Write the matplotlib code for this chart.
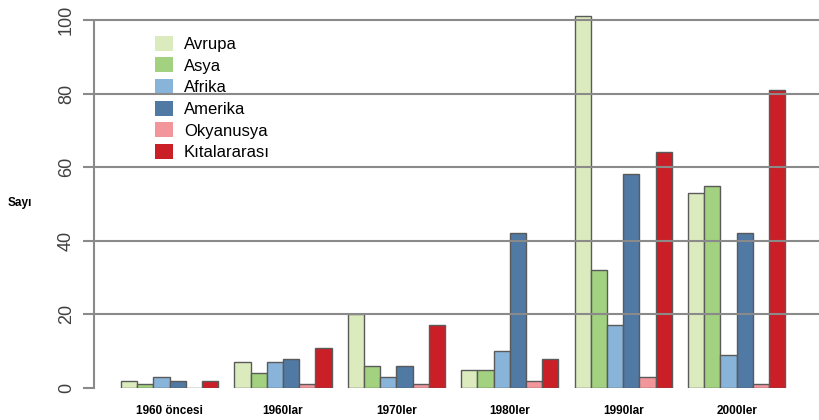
import numpy as np
import matplotlib.pyplot as plt

# Data
periods = ["1960 öncesi", "1960lar", "1970ler", "1980ler", "1990lar", "2000ler"]
regions = ["Avrupa", "Asya", "Afrika", "Amerika", "Okyanusya", "Kıtalararası"]
avrupa = [2, 7, 20, 5, 101, 53]
asya = [1, 4, 6, 5, 32, 55]
afrika = [3, 7, 3, 10, 17, 9]
amerika = [2, 8, 6, 42, 58, 42]
okyanusya = [0, 1, 1, 2, 3, 1]
kitalararasi = [2, 11, 17, 8, 64, 81]
yticks = [0, 20, 40, 60, 80, 100]

series = [avrupa, asya, afrika, amerika, okyanusya, kitalararasi]
colors = ["#DCEBBD", "#A2D17F", "#88B4DA", "#5079A4", "#F2969C", "#CB1F27"]

plt.rcParams['font.family'] = ['Liberation Sans', 'DejaVu Sans']

fig = plt.figure(figsize=(8.2, 4.2), dpi=100)
# axes placed so that 0 sits at y=388px and the y axis at x=94px
ax = fig.add_axes([94.4 / 820, 32 / 420, 1 - 94.4 / 820, 388 / 420])

n_reg = len(regions)
step = n_reg + 1  # one empty bar slot between groups
for j, (vals, col, name) in enumerate(zip(series, colors, regions)):
    x = np.arange(len(periods)) * step + 1 + j + 0.5
    ax.bar(x, vals, width=1.0, color=col, edgecolor="#5a5a5a",
           linewidth=1.0, label=name, zorder=2)

ax.set_xlim(-0.64, 44.15)
ax.set_ylim(0, 105.4)

# horizontal reference lines over the bars
for t in yticks[1:]:
    ax.axhline(t, color="#8a8a8a", linewidth=1.5, zorder=3)

ax.set_yticks(yticks)
ax.set_yticklabels([str(t) for t in yticks], rotation=90, va="center",
                   fontsize=13, color="#404040")
ax.tick_params(axis="y", length=8, width=1.5, color="#8a8a8a", pad=6)
ax.tick_params(axis="x", length=0)

centres = np.arange(len(periods)) * step + 1 + n_reg / 2
ax.set_xticks(centres)
ax.set_xticklabels(periods, fontsize=8.5, fontweight="bold")
ax.tick_params(axis="x", pad=12)

for s in ["top", "right", "bottom"]:
    ax.spines[s].set_visible(False)
ax.spines["left"].set_bounds(0, 100)
ax.spines["left"].set_color("#8a8a8a")
ax.spines["left"].set_linewidth(1.5)

fig.text(8 / 820, 1 - 203 / 420, "Sayı", fontsize=8.5, fontweight="bold",
         va="center", ha="left")

leg = ax.legend(loc="upper left", bbox_to_anchor=(0.075, 0.925), frameon=False,
                fontsize=12, handlelength=1.05, handleheight=1.0,
                labelspacing=0.33, handletextpad=0.65, borderaxespad=0)
for h in leg.legend_handles:
    h.set_edgecolor("none")
leg.set_zorder(1)

fig.savefig("out.png", dpi=100)
